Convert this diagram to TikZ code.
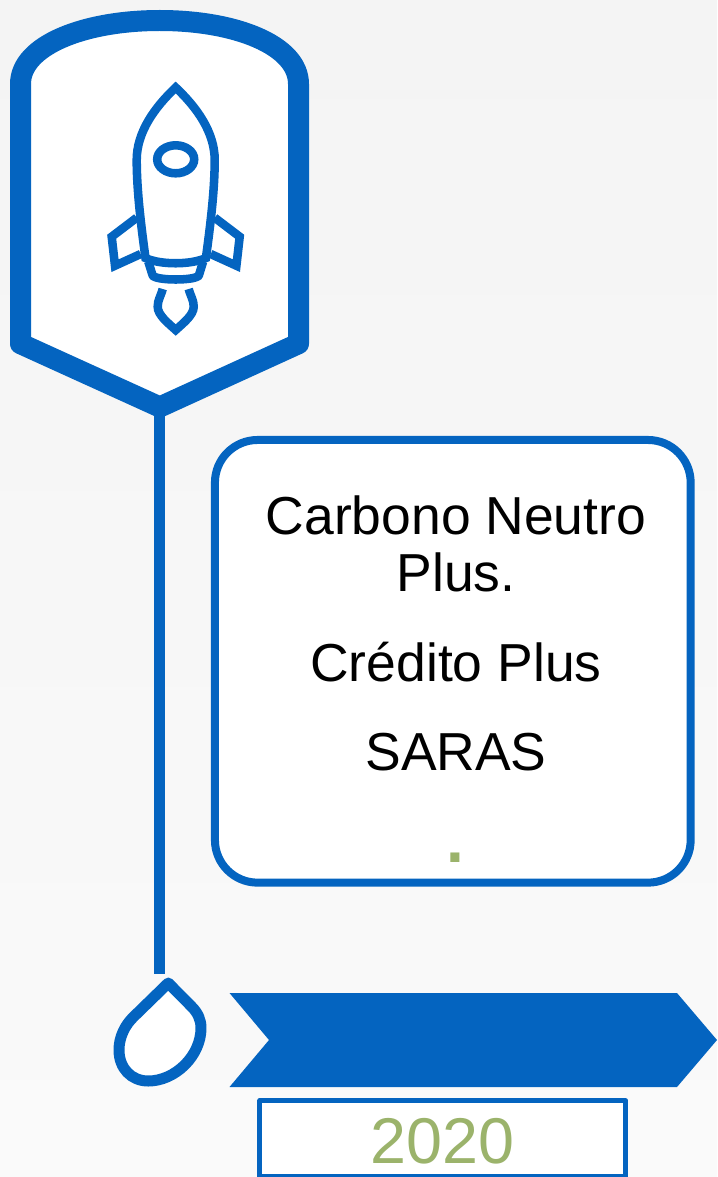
\documentclass[tikz,border=0pt]{standalone}
\usepackage{fontspec}
\setmainfont{Liberation Sans}
\usetikzlibrary{positioning}
\definecolor{ribbonblue}{RGB}{4,100,192}
\definecolor{yeargreen}{RGB}{155,179,107}
\tikzset{
  outline/.style={draw=ribbonblue, fill=white, line join=round},
  rocketline/.style={draw=ribbonblue, line width=6.4pt, line join=miter},
  cardbox/.style={outline, line width=6pt, rounded corners=32pt, inner sep=0pt, minimum width=356.8pt, minimum height=332pt},
  yearbox/.style={outline, line width=3.75pt, inner sep=0pt, minimum width=274.5pt, minimum height=56.8pt},
  cardtext/.style={align=center, inner sep=0pt, font=\fontsize{40.1}{43.3}\selectfont}
}

\begin{document}
\begin{tikzpicture}[x=0.75pt, y=-0.75pt]
  \useasboundingbox (0,0) rectangle (717,1177);
  % background
  \shade[top color={rgb,255:red,244;green,244;blue,244}, bottom color={rgb,255:red,250;green,250;blue,250}] (0,0) rectangle (717,1177);

  % coordinates for the stem
  \coordinate (shieldtip) at (159.8,407);
  \coordinate (droptop) at (159.8,974);
  \draw[ribbonblue, line width=8.25pt] (shieldtip) -- (droptop);

  % shield
  \draw[outline, line width=15.75pt] (20.5,84) .. controls (20.5,45) and (85,20.5) .. (159.8,20.5)
    .. controls (235,20.5) and (298.5,45) .. (298.5,84)
    -- (298.5,343.7) -- (shieldtip) -- (20.5,343.7) -- cycle;

  % rocket body and window
  \draw[rocketline] (175.7,87.5) .. controls (155,107) and (136.7,132) .. (136.7,160)
    .. controls (136.7,190) and (141,225) .. (145.5,258)
    .. controls (160,265) and (191,265) .. (205.9,258)
    .. controls (210.4,225) and (214.7,190) .. (214.7,160)
    .. controls (214.7,132) and (196.4,107) .. (175.7,87.5) -- cycle;
  \draw[rocketline] (175.7,159.3) ellipse (18.5 and 14);

  % fins
  \draw[rocketline] (136.7,217.7) -- (111.7,236.7) -- (115,265.7) -- (140.7,254);
  \draw[rocketline] (214.7,217.7) -- (239.7,236.7) -- (236.4,265.7) -- (210.7,254);

  % nozzle and flame
  \draw[rocketline] (148.3,261.7) -- (152.5,275) .. controls (153.5,281) and (198,281) .. (199,275) -- (203.1,261.7);
  \draw[rocketline] (162.7,289) .. controls (160.5,297) and (157.7,300) .. (157.7,306.7)
    .. controls (157.7,315) and (168,323) .. (175.7,330)
    .. controls (183.4,323) and (193.7,315) .. (193.7,306.7)
    .. controls (193.7,300) and (190.9,297) .. (188.7,289);

  % text card
  \node[cardbox] (card) at (452.8,661.3) {};
  \node[cardtext] (line1) at (456,544) {Carbono Neutro\\Plus.};
  \node[cardtext, anchor=base] (line2) at (456,681.5) {Crédito Plus};
  \node[cardtext, anchor=base] (line3) at (456,770.7) {SARAS};
  \node[cardtext, anchor=base, text=yeargreen, font=\fontsize{48}{48}\selectfont\bfseries] (line4) at (455.7,862) {.};

  % drop
  \draw[outline, line width=8.25pt] (168.3,983) -- (191.7,1006.7) .. controls (198,1013) and (201,1020) .. (201,1028)
    .. controls (201,1056) and (175,1081) .. (148.3,1081)
    .. controls (131,1081) and (119,1068) .. (119,1050)
    .. controls (119,1037) and (125,1025) .. (133.7,1016.7) -- cycle;

  % ribbon
  \fill[ribbonblue] (229.5,993) -- (677,993) -- (717,1040) -- (677,1087) -- (229.5,1087) -- (269,1040) -- cycle;

  % year
  \node[yearbox] (year) at (442.8,1138.6) {};
  \node[text=yeargreen, inner sep=0pt, font=\fontsize{48.5}{50}\selectfont, anchor=base] (yeartext) at (442.4,1163) {2020};
\end{tikzpicture}
\end{document}
